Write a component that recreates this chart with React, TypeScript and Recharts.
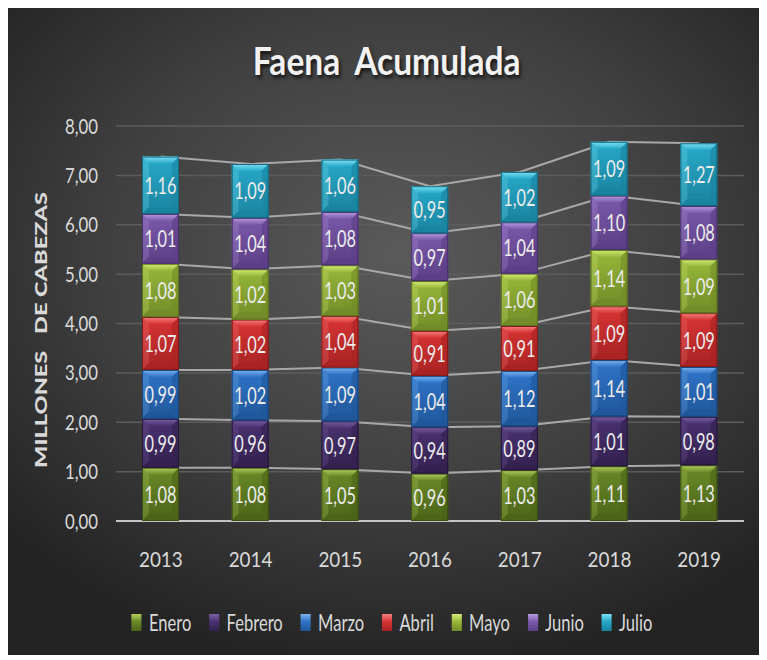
import React from 'react';
import { ComposedChart, BarChart, Bar, Line, XAxis, YAxis, CartesianGrid, LabelList, Legend } from 'recharts';

const years = ['2013', '2014', '2015', '2016', '2017', '2018', '2019'];
const seriesNames = ['Enero', 'Febrero', 'Marzo', 'Abril', 'Mayo', 'Junio', 'Julio'];
const enero = [1.08, 1.08, 1.05, 0.96, 1.03, 1.11, 1.13];
const febrero = [0.99, 0.96, 0.97, 0.94, 0.89, 1.01, 0.98];
const marzo = [0.99, 1.02, 1.09, 1.04, 1.12, 1.14, 1.01];
const abril = [1.07, 1.02, 1.04, 0.91, 0.91, 1.09, 1.09];
const mayo = [1.08, 1.02, 1.03, 1.01, 1.06, 1.14, 1.09];
const junio = [1.01, 1.04, 1.08, 0.97, 1.04, 1.10, 1.08];
const julio = [1.16, 1.09, 1.06, 0.95, 1.02, 1.09, 1.27];
const yTicks = [0, 1, 2, 3, 4, 5, 6, 7, 8];

const seriesValues = [enero, febrero, marzo, abril, mayo, junio, julio];

const COLORS = [
  { light: '#b3cf5e', mid: '#6a8a28', dark: '#4b6418', edge: '#3a4f12' },
  { light: '#7a5fa3', mid: '#4a3270', dark: '#33214f', edge: '#25173a' },
  { light: '#7db4f0', mid: '#2f74c8', dark: '#20579a', edge: '#184579' },
  { light: '#f58080', mid: '#d83434', dark: '#a82323', edge: '#801a1a' },
  { light: '#d6ec78', mid: '#98b83a', dark: '#718c28', edge: '#5a711e' },
  { light: '#b79ce0', mid: '#7b59aa', dark: '#5c3f86', edge: '#47306a' },
  { light: '#80e2f5', mid: '#27a9c8', dark: '#1a84a0', edge: '#136a81' },
];

const data = years.map((year, i) => {
  const row: any = { year };
  let cum = 0;
  seriesNames.forEach((name, s) => {
    row[name] = seriesValues[s][i];
    cum += seriesValues[s][i];
    row['cum' + s] = Math.round(cum * 100) / 100;
  });
  return row;
});

const FONT = 'Lato, "Open Sans", sans-serif';
const fmt = (v: number) => v.toFixed(2).replace('.', ',');

const W = 754;
const H = 647;
const MARGIN = { top: 118, right: 18, bottom: 0, left: 0 };
const X_H = 134;
const Y_W = 108;

const BevelBar = (props: any) => {
  const { x, y, width: w, height: h, idx } = props;
  if (!h || h <= 0) return null;
  const c = COLORS[idx];
  const b = Math.min(7, h / 3, w / 3);
  const gid = 'body' + idx;
  return (
    <g>
      <defs>
        <linearGradient id={gid} x1="0" y1="0" x2="0" y2="1">
          <stop offset="0" stopColor={c.mid} />
          <stop offset="1" stopColor={c.dark} />
        </linearGradient>
        <linearGradient id={'top' + idx} x1="0" y1="0" x2="0" y2="1">
          <stop offset="0" stopColor={c.light} />
          <stop offset="1" stopColor={c.mid} />
        </linearGradient>
      </defs>
      <rect x={x} y={y} width={w} height={h} fill={`url(#${gid})`} />
      <polygon points={`${x},${y} ${x + w},${y} ${x + w - b},${y + b} ${x + b},${y + b}`} fill={`url(#top${idx})`} />
      <polygon points={`${x},${y} ${x + b},${y + b} ${x + b},${y + h - b} ${x},${y + h}`} fill={c.light} opacity={0.25} />
      <polygon points={`${x + w},${y} ${x + w - b},${y + b} ${x + w - b},${y + h - b} ${x + w},${y + h}`} fill={c.dark} opacity={0.6} />
      <polygon points={`${x},${y + h} ${x + b},${y + h - b} ${x + w - b},${y + h - b} ${x + w},${y + h}`} fill={c.dark} opacity={0.9} />
      <rect x={x + 0.5} y={y + 0.5} width={w - 1} height={h - 1} fill="none" stroke={c.edge} strokeWidth={1} />
    </g>
  );
};

const BarLabel = (props: any) => {
  const { x, y, width, height, value } = props;
  const cx = x + width / 2;
  const cy = y + height / 2 + 8.5;
  return (
    <text transform={`translate(${cx},${cy}) scale(0.68,1)`} textAnchor="middle" fontFamily={FONT} fontSize={24} fill="#ececec">
      {fmt(value)}
    </text>
  );
};

const XTick = (props: any) => {
  const { x, y, payload } = props;
  return (
    <text transform={`translate(${x},${y + 46}) scale(0.9,1)`} textAnchor="middle" fontFamily={FONT} fontSize={21} fill="#d9d9d9">
      {payload.value}
    </text>
  );
};

const YTick = (props: any) => {
  const { x, y, payload } = props;
  return (
    <text transform={`translate(${x},${y + 7.5}) scale(0.8,1)`} textAnchor="end" fontFamily={FONT} fontSize={21} fill="#d9d9d9">
      {fmt(payload.value)}
    </text>
  );
};

const LegendContent = () => (
  <div style={{ display: 'flex', justifyContent: 'center', transform: 'translateX(7px) scaleX(0.72)', transformOrigin: '50% 50%', whiteSpace: 'nowrap' }}>
    {seriesNames.map((n, i) => (
      <div key={n} style={{ display: 'flex', alignItems: 'center', marginRight: i < seriesNames.length - 1 ? 25 : 0 }}>
        <div style={{ width: 14, height: 17, background: `linear-gradient(180deg, ${COLORS[i].light}, ${COLORS[i].mid} 45%, ${COLORS[i].dark})`, marginRight: 10 }} />
        <span style={{ fontFamily: FONT, fontSize: 23, color: '#d9d9d9', lineHeight: '30px' }}>{n}</span>
      </div>
    ))}
  </div>
);

export default function App() {
  return (
    <div style={{ position: 'relative', width: W, height: H, overflow: 'hidden', background: 'radial-gradient(ellipse 70% 65% at 52% 38%, #5a5a5a 0%, #404040 55%, #232323 100%)' }}>
      <div style={{ position: 'absolute', left: 0, top: 28, width: W, textAlign: 'center', fontFamily: FONT, fontWeight: 700, fontSize: 39, color: '#f2f2f2', transform: 'scaleX(0.86)', transformOrigin: '51.5% 50%', textShadow: '2px 3px 4px rgba(0,0,0,0.7)', lineHeight: '48px', wordSpacing: 8 }}>
        Faena Acumulada
      </div>
      <div style={{ position: 'absolute', left: 33, top: 322, transform: 'translate(-50%,-50%) rotate(-90deg) scaleX(1.41)', fontFamily: FONT, fontWeight: 900, fontSize: 16.7, color: '#d9d9d9', whiteSpace: 'pre', lineHeight: '20px' }}>
        {'MILLONES   DE CABEZAS'}
      </div>
      {/* back layer: grid, axes and series lines */}
      <div style={{ position: 'absolute', left: 0, top: 0 }}>
        <ComposedChart width={W} height={H} data={data} margin={MARGIN}>
          <CartesianGrid vertical={false} stroke="#5c5c5c" strokeWidth={1.5} />
          <XAxis dataKey="year" scale="band" height={X_H} tickSize={0} tickMargin={0} tickLine={false} axisLine={{ stroke: '#c4c4c4', strokeWidth: 2 }} tick={<XTick />} interval={0} />
          <YAxis width={Y_W} domain={[0, 8]} ticks={yTicks} tickSize={0} tickMargin={18} tickLine={false} axisLine={false} tick={<YTick />} />
          <Bar dataKey="cum6" barSize={37} fill="none" legendType="none" isAnimationActive={false} />
          {seriesNames.map((n, s) => (
            <Line key={'l' + n} dataKey={'cum' + s} type="linear" stroke="#a8a8a8" strokeWidth={2} dot={false} activeDot={false} legendType="none" isAnimationActive={false} />
          ))}
        </ComposedChart>
      </div>
      {/* front layer: stacked bars */}
      <div style={{ position: 'absolute', left: 0, top: 0 }}>
        <BarChart width={W} height={H} data={data} margin={MARGIN}>
          <XAxis dataKey="year" height={X_H} tick={false} tickLine={false} axisLine={false} />
          <YAxis width={Y_W} domain={[0, 8]} ticks={yTicks} tick={false} tickLine={false} axisLine={false} />
          {seriesNames.map((n, s) => (
            <Bar key={n} dataKey={n} stackId="a" barSize={37} fill={COLORS[s].mid} isAnimationActive={false} shape={(p: any) => <BevelBar {...p} idx={s} />}>
              <LabelList dataKey={n} content={<BarLabel />} />
            </Bar>
          ))}
          <Legend layout="horizontal" verticalAlign="middle" align="center" content={<LegendContent />} wrapperStyle={{ position: 'absolute', top: 599, left: 0, width: W, height: 30 }} />
        </BarChart>
      </div>
    </div>
  );
}
